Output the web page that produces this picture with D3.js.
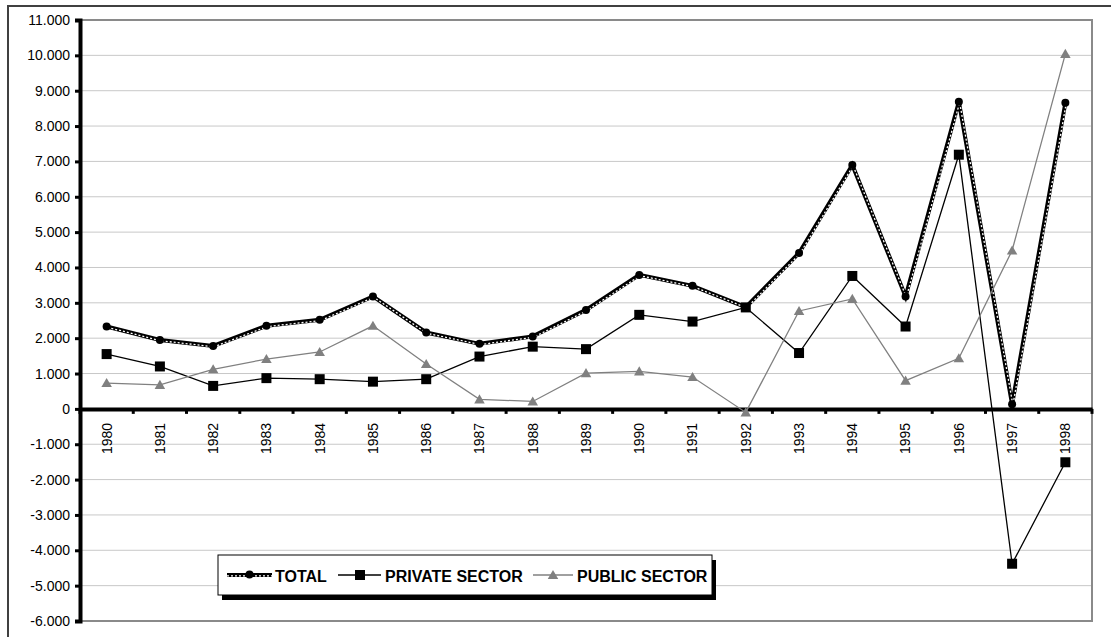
<!DOCTYPE html>
<html><head><meta charset="utf-8">
<script src="https://cdn.jsdelivr.net/npm/d3@7"></script>
<style>
html,body{margin:0;padding:0;background:#fff;}
svg{display:block;}
</style></head>
<body>
<svg id="chart" width="1111" height="637"></svg>
<script>
const years = ["1980","1981","1982","1983","1984","1985","1986","1987","1988","1989","1990","1991","1992","1993","1994","1995","1996","1997","1998"];
const totalValues   = [2330,1950,1780,2350,2520,3180,2160,1840,2050,2800,3790,3480,2880,4410,6900,3180,8690,130,8660];
const privateValues = [1550,1200,650,870,840,770,840,1480,1760,1690,2660,2470,2870,1580,3760,2330,7190,-4380,-1510];
const publicValues  = [730,680,1120,1410,1610,2350,1270,270,210,1010,1060,900,-100,2770,3110,800,1430,4480,10040];
const yTicks = [-6000,-5000,-4000,-3000,-2000,-1000,0,1000,2000,3000,4000,5000,6000,7000,8000,9000,10000,11000];
const seriesNames = ["TOTAL","PRIVATE SECTOR","PUBLIC SECTOR"];

const svg = d3.select("#chart");
const L = 80, R = 1092, T = 20, B = 621;
const x = d3.scaleBand().domain(years).range([L, R]).padding(0);
const y = d3.scaleLinear().domain([-6000, 11000]).range([B, T]);
const loc = d3.formatLocale({decimal:",", thousands:".", grouping:[3], currency:["",""], minus:"-"});
const fmt = loc.format(",");
const font = "'Liberation Sans', Arial, sans-serif";

// outer frame
svg.append("path").attr("d", "M8,637 L8,6 L1111,6").attr("fill","none").attr("stroke","#404040").attr("stroke-width",2);

// gridlines
svg.append("g").selectAll("line").data(yTicks.filter(d => d !== 0 && d !== 11000)).join("line")
  .attr("x1", L).attr("x2", R).attr("y1", d => y(d)).attr("y2", d => y(d))
  .attr("stroke", "#c8c8c8").attr("stroke-width", 1);

// plot border
svg.append("rect").attr("x", L).attr("y", T).attr("width", R - L).attr("height", B - T)
  .attr("fill","none").attr("stroke","#8a8a8a").attr("stroke-width",2);

// y axis
const yAxis = d3.axisLeft(y).tickValues(yTicks).tickFormat(fmt).tickSize(5).tickPadding(5);
const gy = svg.append("g").attr("transform", `translate(${L},0)`).call(yAxis);
gy.select(".domain").attr("stroke","#000").attr("stroke-width",4);
gy.selectAll(".tick line").attr("stroke","#000").attr("stroke-width",3);
gy.selectAll(".tick text").attr("font-family", font).attr("font-size", 14).attr("fill","#000");

// x axis at zero
const xAxis = d3.axisBottom(x).tickSize(0).tickPadding(0);
const gx = svg.append("g").attr("transform", `translate(0,${y(0)})`).call(xAxis);
gx.select(".domain").attr("stroke","#000").attr("stroke-width",4);
gx.selectAll(".tick text")
  .attr("font-family", font).attr("font-size", 14).attr("fill","#000")
  .attr("transform", "translate(0,14) rotate(-90)")
  .attr("text-anchor","end").attr("dy","0.35em").attr("x",0).attr("y",0);
// category boundary ticks
const bounds = years.map(d => x(d)).concat([R]);
svg.append("g").selectAll("line").data(bounds).join("line")
  .attr("x1", d => d).attr("x2", d => d).attr("y1", y(0)).attr("y2", y(0) + 5)
  .attr("stroke","#000").attr("stroke-width",3);

const cx = d => x(d) + x.bandwidth() / 2;
const line = d3.line().x(d => cx(d.year)).y(d => y(d.v));
const mk = vals => years.map((yr, i) => ({year: yr, v: vals[i]}));
const tri = d3.symbol().type(d3.symbolTriangle).size(48);

function drawTotalLine(g, pts) {
  g.append("path").datum(pts).attr("d", line).attr("fill","none").attr("stroke","#000").attr("stroke-width",4).attr("stroke-linejoin","miter");
  g.append("path").datum(pts).attr("d", line).attr("transform","translate(0.8,0.8)").attr("fill","none").attr("stroke","#fff").attr("stroke-width",1.3).attr("stroke-dasharray","2,2");
}

// TOTAL
const tPts = mk(totalValues);
const gT = svg.append("g");
drawTotalLine(gT, tPts);
gT.selectAll("circle").data(tPts).join("circle").attr("cx", d => cx(d.year)).attr("cy", d => y(d.v)).attr("r", 4).attr("fill","#000");

// PRIVATE
const pPts = mk(privateValues);
const gP = svg.append("g");
gP.append("path").datum(pPts).attr("d", line).attr("fill","none").attr("stroke","#000").attr("stroke-width",1.3);
gP.selectAll("rect").data(pPts).join("rect").attr("x", d => cx(d.year) - 5).attr("y", d => y(d.v) - 5).attr("width",10).attr("height",10).attr("fill","#000");

// PUBLIC
const uPts = mk(publicValues);
const gU = svg.append("g");
gU.append("path").datum(uPts).attr("d", line).attr("fill","none").attr("stroke","#808080").attr("stroke-width",1.3);
gU.selectAll("path.m").data(uPts).join("path").attr("class","m").attr("d", tri)
  .attr("transform", d => `translate(${cx(d.year)},${y(d.v) + 1})`).attr("fill","#808080");

// legend
const lg = svg.append("g");
lg.append("rect").attr("x",222).attr("y",560).attr("width",494).attr("height",40).attr("fill","#000");
lg.append("rect").attr("x",218).attr("y",555).attr("width",494).attr("height",40).attr("fill","#fff").attr("stroke","#000").attr("stroke-width",1);
const ly = 575;
// total sample
lg.append("line").attr("x1",227).attr("x2",272).attr("y1",ly).attr("y2",ly).attr("stroke","#000").attr("stroke-width",4);
lg.append("line").attr("x1",227).attr("x2",272).attr("y1",ly+0.8).attr("y2",ly+0.8).attr("stroke","#fff").attr("stroke-width",1.3).attr("stroke-dasharray","2,2");
lg.append("circle").attr("cx",249.5).attr("cy",ly-0.5).attr("r",4).attr("fill","#000");
// private sample
lg.append("line").attr("x1",338).attr("x2",381).attr("y1",ly).attr("y2",ly).attr("stroke","#000").attr("stroke-width",1.3);
lg.append("rect").attr("x",355).attr("y",ly-5).attr("width",10).attr("height",10).attr("fill","#000");
// public sample
lg.append("line").attr("x1",533).attr("x2",573).attr("y1",ly).attr("y2",ly).attr("stroke","#808080").attr("stroke-width",1.3);
lg.append("path").attr("d", tri).attr("transform",`translate(553,${ly+1})`).attr("fill","#808080");
const labelX = [275, 385, 577];
lg.selectAll("text").data(seriesNames).join("text")
  .attr("x", (d,i) => labelX[i]).attr("y", 582)
  .attr("font-family", font).attr("font-weight","bold").attr("font-size",16).attr("fill","#000")
  .text(d => d);
</script>
</body></html>
